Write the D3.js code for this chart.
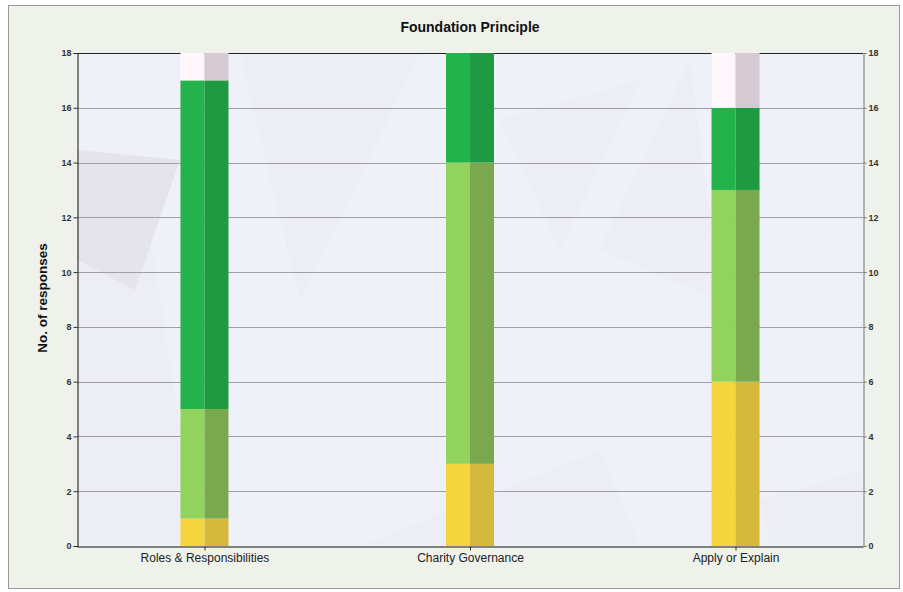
<!DOCTYPE html>
<html><head><meta charset="utf-8">
<script src="https://cdn.jsdelivr.net/npm/d3@7"></script>
<style>html,body{margin:0;padding:0;background:#fff;}svg{display:block;}</style>
</head><body><svg id="c" width="903" height="592"></svg>
<script>
const categories = ["Roles & Responsibilities", "Charity Governance", "Apply or Explain"];
const seriesNames = ["Low", "Medium", "High", "No response"];
const lowValues = [1, 3, 6];
const mediumValues = [4, 11, 7];
const highValues = [12, 5, 3];
const noResponseValues = [2, 0, 3];
const yTicks = [0, 2, 4, 6, 8, 10, 12, 14, 16, 18];
const title = "Foundation Principle";
const yTitle = "No. of responses";

const colorsLight = ["#f4d53e", "#92d35d", "#23b24b", "#fdf7fc"];
const colorsDark  = ["#d5b93c", "#7aa84e", "#1f9a42", "#d5cad2"];

const svg = d3.select("#c");
const W = 903, H = 592;
const m = {l: 77, r: 40, t: 53, b: 46};
const x0 = m.l, x1 = W - m.r, y0 = H - m.b, y1 = m.t;

// frame
svg.append("rect").attr("x",0).attr("y",0).attr("width",W).attr("height",H).attr("fill","#ffffff");
svg.append("rect").attr("x",8.5).attr("y",5.5).attr("width",891).attr("height",583)
  .attr("fill","#eef2eb").attr("stroke","#9a9a9a").attr("stroke-width",1);

const y = d3.scaleLinear().domain([0,18]).range([y0,y1]);
const x = d3.scalePoint().domain(categories).range([x0,x1]).padding(0.48);

// plot background
const defs = svg.append("defs");
defs.append("clipPath").attr("id","pc").append("rect")
  .attr("x",x0).attr("y",y1).attr("width",x1-x0).attr("height",y0-y1);
const gBg = svg.append("g").attr("clip-path","url(#pc)");
gBg.append("rect").attr("x",x0).attr("y",y1).attr("width",x1-x0).attr("height",y0-y1).attr("fill","#eff1f8");
// faint decorative facets
const facets = [
  [[x0,150],[180,160],[135,290],[x0,260]],
  [[x0,260],[150,240],[200,546],[x0,546]],
  [[240,53],[420,53],[300,300]],
  [[600,250],[690,60],[720,300]],
  [[360,546],[600,450],[640,546]],
  [[760,500],[863,470],[863,546],[770,546]],
  [[500,120],[640,80],[560,250]]
];
gBg.selectAll("polygon.f").data(facets).join("polygon").attr("class","f")
  .attr("points", d => d.map(p => p.join(",")).join(" "))
  .attr("fill", (d,i) => i===0 ? "#dcd8e2" : "#e6e6f0").attr("opacity", (d,i)=> i===0?0.55:0.3);

// gridlines
svg.append("g").selectAll("line").data(yTicks.filter(t=>t>0 && t<18)).join("line")
  .attr("x1",x0).attr("x2",x1).attr("y1",d=>Math.round(y(d))+0.5).attr("y2",d=>Math.round(y(d))+0.5)
  .attr("stroke","#a0a0a0").attr("stroke-width",1);
// top border
svg.append("line").attr("x1",x0).attr("x2",x1).attr("y1",y1+0.5).attr("y2",y1+0.5).attr("stroke","#222");

// stacked data
const rows = categories.map((c,i)=>({cat:c, s0:lowValues[i], s1:mediumValues[i], s2:highValues[i], s3:noResponseValues[i]}));
const stack = d3.stack().keys(["s0","s1","s2","s3"])(rows);
const bw = 48;
const gBars = svg.append("g");
stack.forEach((layer,k)=>{
  const g = gBars.append("g");
  g.selectAll("rect.l").data(layer).join("rect").attr("class","l")
    .attr("x",d=>x(d.data.cat)-bw/2).attr("width",bw/2)
    .attr("y",d=>y(Math.min(d[1],18))).attr("height",d=>Math.max(0,y(d[0])-y(Math.min(d[1],18))))
    .attr("fill",colorsLight[k]);
  g.selectAll("rect.r").data(layer).join("rect").attr("class","r")
    .attr("x",d=>x(d.data.cat)).attr("width",bw/2)
    .attr("y",d=>y(Math.min(d[1],18))).attr("height",d=>Math.max(0,y(d[0])-y(Math.min(d[1],18))))
    .attr("fill",colorsDark[k]);
});

// axes
const tickFont = "bold 9px Arial, 'Liberation Sans', sans-serif";
const yl = svg.append("g").attr("transform",`translate(${x0+0.5},0)`)
  .call(d3.axisLeft(y).tickValues(yTicks).tickSize(4).tickPadding(2));
yl.select(".domain").attr("stroke","#111");
yl.selectAll(".tick line").attr("stroke","#333");
yl.selectAll("text").style("font",tickFont).attr("fill","#333");

const yr = svg.append("g").attr("transform",`translate(${x1+0.5},0)`)
  .call(d3.axisRight(y).tickValues(yTicks).tickSize(3).tickPadding(2));
yr.select(".domain").attr("stroke","#777");
yr.selectAll(".tick line").attr("stroke","#777");
yr.selectAll("text").style("font",tickFont).attr("fill","#333");

const xa = svg.append("g").attr("transform",`translate(0,${y0+0.5})`)
  .call(d3.axisBottom(x).tickSize(4).tickPadding(3).tickSizeOuter(0));
xa.select(".domain").attr("stroke","#111");
xa.selectAll(".tick line").attr("stroke","#333");
xa.selectAll("text").style("font","12px Arial, 'Liberation Sans', sans-serif").attr("fill","#222");

// titles
svg.append("text").attr("x",470).attr("y",32).attr("text-anchor","middle")
  .style("font","bold 14px Arial, 'Liberation Sans', sans-serif").attr("fill","#111").text(title);
svg.append("text").attr("transform","translate(47,298) rotate(-90)").attr("text-anchor","middle")
  .style("font","bold 13.5px Arial, 'Liberation Sans', sans-serif").attr("fill","#111").text(yTitle);
</script></body></html>
